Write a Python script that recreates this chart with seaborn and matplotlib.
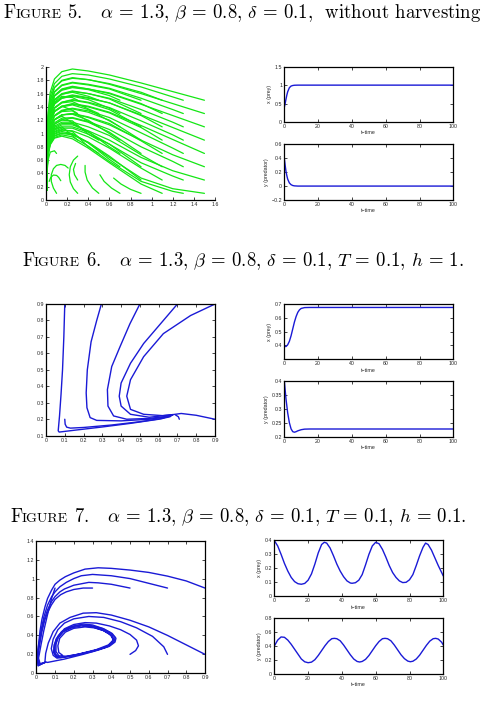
import matplotlib
matplotlib.use("Agg")
import matplotlib.pyplot as plt
import seaborn as sns
import numpy as np
from matplotlib.ticker import FuncFormatter, FixedLocator
from matplotlib.offsetbox import TextArea, HPacker, AnchoredOffsetbox

# ---------------- data ----------------
S15 = [1.5, 1.2, 0.9, 0.6, 0.4, 0.25, 0.15, 0.08, 0.04, 0.02, 0.01, 0.006]
S13 = [1.3, 1.2, 0.9, 0.6, 0.4, 0.25, 0.15, 0.08, 0.04, 0.02, 0.01, 0.006]
S11 = [1.1, 0.9, 0.6, 0.4, 0.25, 0.15, 0.08, 0.04, 0.02, 0.01, 0.006]
S09 = [0.9, 0.6, 0.4, 0.25, 0.15, 0.08, 0.04, 0.02, 0.01, 0.006]
S07 = [0.7, 0.6, 0.4, 0.25, 0.15, 0.08, 0.04, 0.02, 0.01, 0.006]
S05 = [0.5, 0.4, 0.25, 0.15, 0.08, 0.04, 0.02, 0.01, 0.006]
S03 = [0.3, 0.25, 0.15, 0.08, 0.04, 0.02, 0.01, 0.006]
S01 = [0.1, 0.08, 0.04, 0.02, 0.01, 0.006]

F5_Y15 = [
    [1.50, 1.63, 1.76, 1.88, 1.94, 1.97, 1.93, 1.82, 1.62, 1.32, 0.90, 0.15],
    [1.30, 1.45, 1.60, 1.74, 1.81, 1.84, 1.80, 1.69, 1.50, 1.22, 0.83, 0.15],
    [1.10, 1.27, 1.44, 1.60, 1.67, 1.71, 1.67, 1.57, 1.39, 1.12, 0.77, 0.15],
    [0.90, 1.09, 1.28, 1.46, 1.54, 1.58, 1.54, 1.45, 1.28, 1.03, 0.71, 0.15],
    [0.70, 0.91, 1.12, 1.32, 1.41, 1.45, 1.41, 1.33, 1.17, 0.95, 0.65, 0.15],
    [0.50, 0.68, 0.90, 1.13, 1.24, 1.30, 1.28, 1.20, 1.06, 0.86, 0.58, 0.15],
    [0.30, 0.44, 0.64, 0.90, 1.04, 1.13, 1.13, 1.07, 0.94, 0.77, 0.52, 0.15],
    [0.10, 0.17, 0.33, 0.64, 0.86, 0.99, 1.01, 0.97, 0.86, 0.70, 0.47, 0.15],
]
F5_Y13 = [
    [1.50, 1.55, 1.70, 1.82, 1.88, 1.90, 1.86, 1.75, 1.56, 1.27, 0.87, 0.15],
    [1.30, 1.36, 1.53, 1.68, 1.74, 1.77, 1.73, 1.63, 1.45, 1.18, 0.80, 0.15],
    [1.10, 1.17, 1.36, 1.53, 1.60, 1.64, 1.60, 1.51, 1.34, 1.08, 0.74, 0.15],
    [0.90, 0.98, 1.19, 1.39, 1.47, 1.51, 1.47, 1.39, 1.23, 0.99, 0.68, 0.15],
    [0.70, 0.78, 1.01, 1.24, 1.34, 1.38, 1.35, 1.27, 1.12, 0.91, 0.62, 0.15],
    [0.50, 0.58, 0.80, 1.06, 1.18, 1.24, 1.23, 1.16, 1.02, 0.83, 0.56, 0.15],
    [0.30, 0.36, 0.56, 0.84, 0.99, 1.08, 1.08, 1.03, 0.91, 0.74, 0.50, 0.15],
    [0.10, 0.13, 0.28, 0.58, 0.81, 0.95, 0.98, 0.94, 0.84, 0.68, 0.46, 0.15],
]
F5_Y11 = [
    [1.50, 1.62, 1.75, 1.81, 1.83, 1.79, 1.69, 1.50, 1.22, 0.84, 0.15],
    [1.30, 1.45, 1.61, 1.67, 1.70, 1.66, 1.57, 1.39, 1.13, 0.78, 0.15],
    [1.10, 1.27, 1.46, 1.53, 1.57, 1.53, 1.45, 1.28, 1.04, 0.72, 0.15],
    [0.90, 1.09, 1.31, 1.40, 1.44, 1.41, 1.33, 1.18, 0.96, 0.66, 0.15],
    [0.70, 0.89, 1.15, 1.25, 1.30, 1.28, 1.21, 1.07, 0.87, 0.60, 0.15],
    [0.50, 0.68, 0.97, 1.10, 1.17, 1.17, 1.11, 0.98, 0.80, 0.54, 0.15],
    [0.30, 0.48, 0.78, 0.95, 1.04, 1.05, 1.00, 0.89, 0.73, 0.49, 0.15],
    [0.10, 0.24, 0.56, 0.78, 0.92, 0.96, 0.93, 0.83, 0.67, 0.45, 0.15],
]
F5_Y09 = [
    [1.50, 1.67, 1.73, 1.76, 1.72, 1.62, 1.44, 1.17, 0.80, 0.15],
    [1.30, 1.52, 1.60, 1.63, 1.59, 1.50, 1.33, 1.08, 0.74, 0.15],
    [1.10, 1.36, 1.46, 1.50, 1.47, 1.38, 1.22, 0.99, 0.68, 0.15],
    [0.90, 1.20, 1.32, 1.37, 1.34, 1.27, 1.12, 0.91, 0.62, 0.15],
    [0.70, 1.02, 1.17, 1.23, 1.21, 1.14, 1.01, 0.82, 0.56, 0.15],
    [0.50, 0.84, 1.02, 1.10, 1.10, 1.05, 0.93, 0.76, 0.51, 0.15],
    [0.30, 0.66, 0.87, 0.98, 1.00, 0.96, 0.86, 0.70, 0.47, 0.15],
]
F5_Y07 = [
    [1.50, 1.57, 1.66, 1.69, 1.65, 1.56, 1.38, 1.12, 0.77, 0.15],
    [1.30, 1.38, 1.51, 1.56, 1.53, 1.44, 1.28, 1.04, 0.71, 0.15],
    [1.10, 1.19, 1.36, 1.43, 1.40, 1.33, 1.18, 0.96, 0.65, 0.15],
    [0.90, 1.00, 1.20, 1.29, 1.28, 1.21, 1.07, 0.87, 0.59, 0.15],
    [0.70, 0.80, 1.03, 1.15, 1.15, 1.09, 0.97, 0.79, 0.53, 0.15],
    [0.50, 0.61, 0.86, 1.00, 1.03, 0.99, 0.88, 0.72, 0.48, 0.15],
]
F5_Y05 = [
    [1.50, 1.56, 1.62, 1.59, 1.50, 1.33, 1.08, 0.74, 0.15],
    [1.30, 1.37, 1.48, 1.46, 1.38, 1.22, 0.99, 0.68, 0.15],
    [1.10, 1.18, 1.34, 1.33, 1.26, 1.12, 0.91, 0.62, 0.15],
    [0.90, 0.99, 1.19, 1.20, 1.14, 1.01, 0.82, 0.56, 0.15],
    [0.70, 0.80, 1.03, 1.06, 1.02, 0.91, 0.74, 0.50, 0.15],
]
F5_Y03 = [
    [1.50, 1.54, 1.56, 1.47, 1.30, 1.06, 0.72, 0.15],
    [1.30, 1.35, 1.41, 1.34, 1.19, 0.97, 0.66, 0.15],
    [1.10, 1.16, 1.26, 1.21, 1.08, 0.88, 0.60, 0.15],
    [0.90, 0.97, 1.10, 1.07, 0.96, 0.79, 0.54, 0.15],
]
F5_Y01 = [
    [1.50, 1.52, 1.40, 1.15, 0.78, 0.15],
    [1.10, 1.13, 1.06, 0.88, 0.60, 0.15],
    [0.70, 0.74, 0.72, 0.60, 0.42, 0.15],
]
F5_ARCS = [
    [(0.1, 0.1), (0.07, 0.18), (0.05, 0.28), (0.05, 0.38), (0.07, 0.47), (0.1, 0.52), (0.14, 0.535),
     (0.18, 0.52), (0.21, 0.48)],
    [(0.03, 0.28), (0.045, 0.34), (0.07, 0.375), (0.1, 0.37), (0.12, 0.34), (0.14, 0.29)],
    [(0.3, 0.1), (0.26, 0.17), (0.23, 0.27), (0.22, 0.38), (0.23, 0.5), (0.26, 0.6), (0.3, 0.66)],
    [(0.5, 0.1), (0.44, 0.18), (0.39, 0.3), (0.37, 0.42), (0.37, 0.52)],
    [(0.7, 0.1), (0.62, 0.18), (0.55, 0.28), (0.51, 0.38)],
    [(0.9, 0.1), (0.8, 0.16), (0.71, 0.24), (0.64, 0.33)],
    [(0.3, 0.3), (0.27, 0.38), (0.26, 0.46), (0.28, 0.55)],
]
F5_AXIS_SEG = [(0.8, 0.0), (1.0, 0.0)]

F6_CURVES = [
    [(0.1, 0.9), (0.095, 0.7), (0.088, 0.5), (0.08, 0.35), (0.072, 0.22), (0.065, 0.13), (0.07, 0.122),
     (0.15, 0.133), (0.3, 0.153), (0.45, 0.175), (0.6, 0.2), (0.66, 0.215), (0.675, 0.228)],
    [(0.1, 0.2), (0.102, 0.17), (0.11, 0.152), (0.13, 0.146), (0.2, 0.15), (0.35, 0.165), (0.5, 0.185),
     (0.62, 0.205), (0.675, 0.228)],
    [(0.295, 0.9), (0.27, 0.8), (0.24, 0.67), (0.22, 0.5), (0.214, 0.36), (0.218, 0.27), (0.235, 0.21),
     (0.27, 0.193), (0.4, 0.19), (0.55, 0.2), (0.65, 0.215), (0.675, 0.228)],
    [(0.5, 0.9), (0.447, 0.78), (0.394, 0.64), (0.35, 0.52), (0.327, 0.38), (0.33, 0.28), (0.36, 0.22),
     (0.43, 0.2), (0.55, 0.205), (0.625, 0.215), (0.675, 0.228)],
    [(0.7, 0.9), (0.625, 0.8), (0.52, 0.66), (0.45, 0.54), (0.4, 0.42), (0.39, 0.34), (0.4, 0.28),
     (0.45, 0.23), (0.55, 0.212), (0.675, 0.228)],
    [(0.9, 0.9), (0.77, 0.83), (0.625, 0.72), (0.52, 0.58), (0.45, 0.44), (0.43, 0.34), (0.45, 0.26),
     (0.52, 0.23), (0.62, 0.222), (0.675, 0.228)],
    [(0.9, 0.2), (0.8, 0.224), (0.72, 0.235), (0.675, 0.228)],
    [(0.71, 0.2), (0.705, 0.215), (0.69, 0.226)],
]

F7_CURVES = [
    [(0.9, 0.9), (0.8, 0.975), (0.7, 1.026), (0.6, 1.065), (0.5, 1.09), (0.4, 1.108), (0.33, 1.114),
     (0.26, 1.10), (0.2, 1.06), (0.155, 1.02), (0.126, 0.984), (0.1, 0.94), (0.082, 0.88), (0.06, 0.79),
     (0.046, 0.70), (0.03, 0.57), (0.02, 0.45), (0.012, 0.3), (0.006, 0.15), (0.01, 0.08), (0.03, 0.1),
     (0.05, 0.12)],
    [(0.7, 0.9), (0.6, 0.95), (0.5, 1.0), (0.4, 1.03), (0.3, 1.044), (0.24, 1.03), (0.2, 1.0),
     (0.16, 0.96), (0.126, 0.914), (0.1, 0.86), (0.082, 0.81), (0.06, 0.72), (0.041, 0.6), (0.025, 0.45),
     (0.011, 0.28), (0.005, 0.15), (0.01, 0.08), (0.03, 0.1), (0.05, 0.12)],
    [(0.5, 0.9), (0.4, 0.94), (0.33, 0.955), (0.28, 0.96), (0.2, 0.93), (0.15, 0.89), (0.126, 0.86),
     (0.1, 0.81), (0.082, 0.76), (0.06, 0.67), (0.041, 0.56), (0.025, 0.42), (0.011, 0.25), (0.006, 0.14),
     (0.015, 0.09), (0.04, 0.11)],
    [(0.3, 0.9), (0.25, 0.9), (0.2, 0.885), (0.16, 0.86), (0.13, 0.83), (0.1, 0.78), (0.08, 0.72),
     (0.06, 0.64), (0.045, 0.56), (0.03, 0.44), (0.015, 0.27), (0.008, 0.15), (0.02, 0.1), (0.045, 0.115)],
    [(0.1, 0.9), (0.08, 0.78), (0.06, 0.62), (0.04, 0.45), (0.025, 0.3), (0.012, 0.16), (0.02, 0.1),
     (0.045, 0.11)],
    [(0.9, 0.2), (0.8, 0.3), (0.7, 0.4), (0.6, 0.49), (0.5, 0.56), (0.4, 0.615), (0.32, 0.64), (0.25, 0.635),
     (0.18, 0.59), (0.126, 0.53), (0.09, 0.44), (0.064, 0.32), (0.05, 0.21), (0.046, 0.12), (0.06, 0.115),
     (0.15, 0.15), (0.25, 0.2), (0.33, 0.245), (0.39, 0.285), (0.42, 0.33), (0.425, 0.37), (0.405, 0.42),
     (0.36, 0.47), (0.3, 0.51), (0.25, 0.52), (0.2, 0.5), (0.15, 0.46), (0.115, 0.39), (0.095, 0.3),
     (0.092, 0.22), (0.105, 0.175), (0.13, 0.165), (0.2, 0.19), (0.3, 0.235), (0.37, 0.275), (0.405, 0.32),
     (0.41, 0.37), (0.39, 0.415), (0.35, 0.46), (0.29, 0.495), (0.24, 0.5), (0.19, 0.48), (0.145, 0.44),
     (0.115, 0.37), (0.1, 0.29), (0.1, 0.21), (0.115, 0.175), (0.14, 0.17), (0.22, 0.2), (0.32, 0.25),
     (0.385, 0.3), (0.41, 0.35), (0.4, 0.4), (0.36, 0.45), (0.3, 0.49), (0.25, 0.5)],
    [(0.7, 0.2), (0.68, 0.28), (0.62, 0.39), (0.535, 0.48), (0.45, 0.545), (0.36, 0.59), (0.28, 0.6),
     (0.2, 0.575), (0.15, 0.53), (0.115, 0.46), (0.09, 0.36), (0.08, 0.26), (0.09, 0.19), (0.11, 0.16),
     (0.2, 0.185), (0.3, 0.23), (0.38, 0.28), (0.415, 0.33), (0.42, 0.38), (0.395, 0.43), (0.35, 0.475),
     (0.29, 0.505), (0.24, 0.51), (0.18, 0.49), (0.135, 0.44), (0.105, 0.36), (0.095, 0.27), (0.1, 0.2),
     (0.12, 0.17)],
    [(0.5, 0.2), (0.53, 0.24), (0.545, 0.29), (0.535, 0.35), (0.5, 0.41), (0.45, 0.46), (0.39, 0.5),
     (0.32, 0.53), (0.26, 0.535), (0.2, 0.515), (0.15, 0.47), (0.12, 0.4), (0.105, 0.31), (0.105, 0.23),
     (0.12, 0.185), (0.16, 0.18), (0.25, 0.21), (0.34, 0.255), (0.395, 0.3), (0.415, 0.35), (0.405, 0.4),
     (0.37, 0.445), (0.31, 0.48), (0.26, 0.49), (0.2, 0.475), (0.155, 0.435), (0.125, 0.37), (0.115, 0.29),
     (0.12, 0.22), (0.14, 0.19)],
]

T5 = [0, 0.5, 1, 1.5, 2, 3, 4, 5, 6, 8, 100]
X5 = [0.40, 0.50, 0.62, 0.73, 0.82, 0.93, 0.975, 0.99, 0.997, 1.0, 1.0]
Y5 = [0.40, 0.30, 0.21, 0.15, 0.10, 0.045, 0.02, 0.008, 0.003, 0.0, 0.0]

T6X = [0, 1, 2, 3, 4, 5, 6, 7, 8, 9, 10, 12, 15, 100]
X6 = [0.395, 0.392, 0.405, 0.43, 0.47, 0.52, 0.57, 0.61, 0.64, 0.658, 0.668, 0.674, 0.675, 0.675]
T6Y = [0, 1, 2, 3, 4, 5, 6, 7, 8, 10, 12, 15, 20, 100]
Y6 = [0.40, 0.335, 0.285, 0.25, 0.228, 0.218, 0.216, 0.218, 0.221, 0.225, 0.227, 0.2275, 0.2275, 0.2275]

T7X = [0, 2, 4, 6, 8, 10, 12, 14, 16, 18, 20, 22, 24, 26, 28, 29.6, 31, 33, 35, 37, 39, 41, 43, 45, 46,
       48, 50, 52, 54, 56, 58, 60, 62, 64, 66, 68, 70, 72, 74, 76, 78, 80, 82, 84, 86, 88, 89.5, 91, 93,
       95, 97, 100]
X7 = [0.398, 0.36, 0.30, 0.235, 0.18, 0.135, 0.105, 0.09, 0.086, 0.092, 0.115, 0.16, 0.23, 0.31, 0.37,
      0.386, 0.38, 0.345, 0.29, 0.23, 0.18, 0.14, 0.11, 0.095, 0.093, 0.097, 0.115, 0.155, 0.225, 0.30,
      0.36, 0.386, 0.375, 0.335, 0.28, 0.22, 0.17, 0.135, 0.11, 0.098, 0.10, 0.118, 0.155, 0.22, 0.29,
      0.35, 0.38, 0.37, 0.33, 0.275, 0.22, 0.145]
T7Y = [0, 2, 4, 6, 8, 10, 12, 14, 16, 18, 20, 22, 24, 26, 28, 30, 32, 34, 35.5, 37, 39, 41, 43, 45, 47,
       49, 50.5, 52, 54, 56, 58, 60, 62, 64, 65.5, 67, 69, 71, 73, 75, 77, 79, 80.5, 82, 84, 86, 88, 90,
       92, 94, 95.5, 97, 99, 100]
Y7 = [0.395, 0.48, 0.525, 0.52, 0.48, 0.42, 0.35, 0.28, 0.21, 0.17, 0.157, 0.165, 0.20, 0.26, 0.33,
      0.40, 0.46, 0.50, 0.505, 0.50, 0.47, 0.41, 0.34, 0.27, 0.21, 0.175, 0.167, 0.175, 0.205, 0.26,
      0.33, 0.40, 0.46, 0.50, 0.505, 0.50, 0.47, 0.41, 0.34, 0.27, 0.215, 0.18, 0.171, 0.178, 0.21,
      0.265, 0.335, 0.405, 0.465, 0.50, 0.505, 0.495, 0.45, 0.41]

TITLES = [
    ("5", r"$\alpha$ = 1.3, $\beta$ = 0.8, $\delta$ = 0.1,  without harvesting"),
    ("6", r"$\alpha$ = 1.3, $\beta$ = 0.8, $\delta$ = 0.1, $T$ = 0.1, $h$ = 1."),
    ("7", r"$\alpha$ = 1.3, $\beta$ = 0.8, $\delta$ = 0.1, $T$ = 0.1, $h$ = 0.1."),
]

# ---------------- style ----------------
sns.set_theme(style="white")
plt.rcParams.update({
    "font.family": ["Liberation Sans", "DejaVu Sans"],
    "mathtext.fontset": "cm",
    "axes.linewidth": 0.9,
    "axes.edgecolor": "black",
    "xtick.direction": "in",
    "ytick.direction": "in",
    "xtick.major.size": 2,
    "ytick.major.size": 2,
    "xtick.major.width": 0.6,
    "ytick.major.width": 0.6,
    "xtick.major.pad": 1.5,
    "ytick.major.pad": 1.5,
    "xtick.labelsize": 3.8,
    "ytick.labelsize": 3.8,
})

W, H = 484, 708
fig = plt.figure(figsize=(W / 100, H / 100), dpi=100)
fig.patch.set_facecolor("white")


def ax_at(left, top, right, bottom):
    return fig.add_axes([left / W, 1 - bottom / H, (right - left) / W, (bottom - top) / H])


fmt = FuncFormatter(lambda v, p: ("%g" % round(v, 4)).replace("-", "\u2212"))
GREEN = "#14e614"
BLUE = "#1a1ad6"


def style_axes(ax, xlim, ylim, xticks, yticks, box=True):
    ax.set_xlim(*xlim)
    ax.set_ylim(*ylim)
    ax.xaxis.set_major_locator(FixedLocator(xticks))
    ax.yaxis.set_major_locator(FixedLocator(yticks))
    ax.xaxis.set_major_formatter(fmt)
    ax.yaxis.set_major_formatter(fmt)
    ax.set_xlabel("")
    ax.set_ylabel("")
    ax.set_facecolor("white")
    if box:
        ax.tick_params(top=True, right=True, bottom=True, left=True)
    else:
        ax.spines["top"].set_visible(False)
        ax.spines["right"].set_visible(False)
        ax.tick_params(bottom=True, left=True)


def draw_xy(ax, xs, ys, color, lw=1.0):
    sns.lineplot(x=xs, y=ys, sort=False, estimator=None, color=color, lw=lw, ax=ax, legend=False)


def draw_pts(ax, pts, color, lw=1.0):
    draw_xy(ax, [p[0] for p in pts], [p[1] for p in pts], color, lw)


# ---------------- Figure 5 ----------------
ax = ax_at(46, 67, 215, 200)
for xs, rows in [(S15, F5_Y15), (S13, F5_Y13), (S11, F5_Y11), (S09, F5_Y09), (S07, F5_Y07),
                 (S05, F5_Y05), (S03, F5_Y03), (S01, F5_Y01)]:
    for ys in rows:
        draw_xy(ax, xs, ys, GREEN, 0.9)
for pts in F5_ARCS:
    draw_pts(ax, pts, GREEN, 0.9)
draw_pts(ax, F5_AXIS_SEG, BLUE, 1.0)
style_axes(ax, (0, 1.6), (0, 2), [0, .2, .4, .6, .8, 1, 1.2, 1.4, 1.6],
           [0, .2, .4, .6, .8, 1, 1.2, 1.4, 1.6, 1.8, 2], box=False)


def ts_axes(left, top, right, bottom, t, v, ylim, yticks, ylabel):
    a = ax_at(left, top, right, bottom)
    draw_xy(a, t, v, BLUE, 1.0)
    style_axes(a, (0, 100), ylim, [0, 20, 40, 60, 80, 100], yticks)
    a.set_xlabel("t\u2212time", fontsize=3.8, labelpad=1)
    a.set_ylabel(ylabel, fontsize=3.8, labelpad=2)
    return a


ts_axes(284.3, 66.7, 453.3, 122, T5, X5, (0, 1.5), [0, 0.5, 1, 1.5], "x (prey)")
ts_axes(284.3, 144.3, 453.3, 200, T5, Y5, (-0.2, 0.6), [-0.2, 0, 0.2, 0.4, 0.6], "y (predator)")

# ---------------- Figure 6 ----------------
ax = ax_at(46, 304, 215, 435.7)
for pts in F6_CURVES:
    draw_pts(ax, pts, BLUE, 1.0)
style_axes(ax, (0, 0.9), (0.1, 0.9), [0, .1, .2, .3, .4, .5, .6, .7, .8, .9],
           [.1, .2, .3, .4, .5, .6, .7, .8, .9])
ts_axes(284.3, 304, 453.3, 359.3, T6X, X6, (0.3, 0.7), [0.4, 0.5, 0.6, 0.7], "x (prey)")
ts_axes(284.3, 380.7, 453.3, 436.7, T6Y, Y6, (0.2, 0.4), [0.2, 0.25, 0.3, 0.35, 0.4], "y (predator)")

# ---------------- Figure 7 ----------------
ax = ax_at(36.3, 540.7, 205, 673.3)
for pts in F7_CURVES:
    draw_pts(ax, pts, BLUE, 1.0)
style_axes(ax, (0, 0.9), (0, 1.4), [0, .1, .2, .3, .4, .5, .6, .7, .8, .9],
           [0, .2, .4, .6, .8, 1, 1.2, 1.4])
ts_axes(274.3, 540.3, 443.3, 596.3, T7X, X7, (0, 0.4), [0, 0.1, 0.2, 0.3, 0.4], "x (prey)")
ts_axes(274.3, 617.7, 443.3, 673.7, T7Y, Y7, (0, 0.8), [0, 0.2, 0.4, 0.6, 0.8], "y (predator)")

# ---------------- captions ----------------
BIG, SMALL = 13.5, 10.0


def caption(num, rest, x_px, baseline_px):
    kw = dict(family="cmr10", color="black")
    children = [
        TextArea("F", textprops=dict(fontsize=BIG, **kw)),
        TextArea("IGURE", textprops=dict(fontsize=SMALL, **kw)),
        TextArea(" " + num + ".   " + rest, textprops=dict(fontsize=BIG, **kw)),
    ]
    box = HPacker(children=children, align="baseline", pad=0, sep=0)
    anc = AnchoredOffsetbox(loc="lower left", child=box, pad=0, borderpad=0, frameon=False,
                            bbox_to_anchor=(x_px / W, 1 - baseline_px / H),
                            bbox_transform=fig.transFigure)
    fig.add_artist(anc)


caption(TITLES[0][0], TITLES[0][1], 3, 24)
caption(TITLES[1][0], TITLES[1][1], 22, 272)
caption(TITLES[2][0], TITLES[2][1], 10, 528)

fig.savefig("out.png", dpi=100, facecolor="white")
